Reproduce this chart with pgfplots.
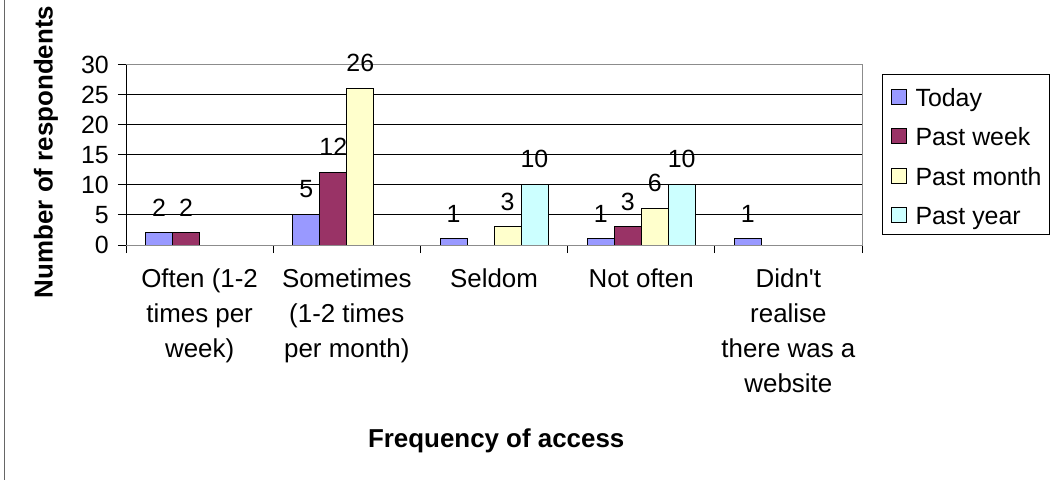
\documentclass[border=0pt]{standalone}
\usepackage{pgfplots}
\pgfplotsset{compat=1.18}
\usepackage{fontspec}
\setmainfont{Liberation Sans}

\definecolor{today}{HTML}{9999FF}
\definecolor{pastweek}{HTML}{993366}
\definecolor{pastmonth}{HTML}{FFFFCC}
\definecolor{pastyear}{HTML}{CCFFFF}

\begin{document}
\begin{tikzpicture}
\path[use as bounding box] (0bp,0bp) rectangle (1059bp,480bp);
\draw[black!60, line width=1bp] (4bp,0bp) -- (4bp,480bp);
\begin{axis}[
    at={(126bp,235bp)}, anchor=south west,
    scale only axis,
    width=736bp, height=180bp,
    /pgf/number format/assume math mode=true,
    ybar=0pt, bar width=27bp,
    xmin=-0.5, xmax=4.5,
    ymin=0, ymax=30,
    ytick={0,5,...,30},
    % category boundaries carry the ticks, categories carry the names
    xtick={-0.5,0.5,1.5,2.5,3.5,4.5},
    xticklabels={},
    extra x ticks={0,1,2,3,4},
    extra x tick labels={{Often (1-2\\times per\\week)},
                 {Sometimes\\(1-2 times\\per month)},
                 {Seldom},
                 {Not often},
                 {Didn\textquotesingle t\\realise\\there was a\\website}},
    extra x tick style={major tick length=0pt, grid=none},
    tick pos=left,
    tick style={black, line width=1bp},
    tick align=outside,
    major tick length=8bp,
    ymajorgrids,
    major grid style={black, line width=1bp},
    axis line style={draw=black!45, line width=1bp},
    tick label style={font=\fontsize{25}{30}\selectfont},
    xticklabel style={align=center, font=\fontsize{26}{35}\selectfont,
                      inner sep=0pt, anchor=north, yshift=-24bp},
    yticklabel style={inner sep=0pt, anchor=east, xshift=-9bp},
    xlabel={Frequency of access},
    ylabel={Number of respondents},
    xlabel style={at={(axis description cs:0.503,-1.09)}, anchor=center,
                  font=\bfseries\fontsize{26}{30}\selectfont},
    ylabel style={at={(axis description cs:-0.1087,0.517)}, anchor=center,
                  rotate=0, font=\bfseries\fontsize{26}{30}\selectfont},
    nodes near coords,
    every node near coord/.append style={font=\fontsize{25}{30}\selectfont,
                  inner sep=0pt, anchor=base, yshift=17bp, black},
    legend style={at={(axis description cs:1.0272,0.95)}, anchor=north west,
                  draw=black, line width=1bp,
                  font=\fontsize{25}{30}\selectfont,
                  inner xsep=8bp, inner ysep=7bp, row sep=11.3bp,
                  nodes={inner sep=0pt, text height=25bp, text depth=3bp},
                  /tikz/every odd column/.append style={column sep=9bp}},
    legend cell align=left,
    legend image code/.code={\draw[#1, line width=1bp] (0bp,-9bp) rectangle (15bp,6bp);},
]
\addplot[fill=today, draw=black, line width=1bp]
    coordinates {(0,2) (1,5) (2,1) (3,1) (4,1)};
\addplot[fill=pastweek, draw=black, line width=1bp]
    coordinates {(0,2) (1,12) (3,3)};
\addplot[fill=pastmonth, draw=black, line width=1bp]
    coordinates {(1,26) (2,3) (3,6)};
\addplot[fill=pastyear, draw=black, line width=1bp]
    coordinates {(2,10) (3,10)};
\legend{Today, Past week, Past month, Past year}
\draw[black, line width=1bp] (rel axis cs:0,1) -- (rel axis cs:0,0) -- (rel axis cs:1,0);
\end{axis}
\end{tikzpicture}
\end{document}
